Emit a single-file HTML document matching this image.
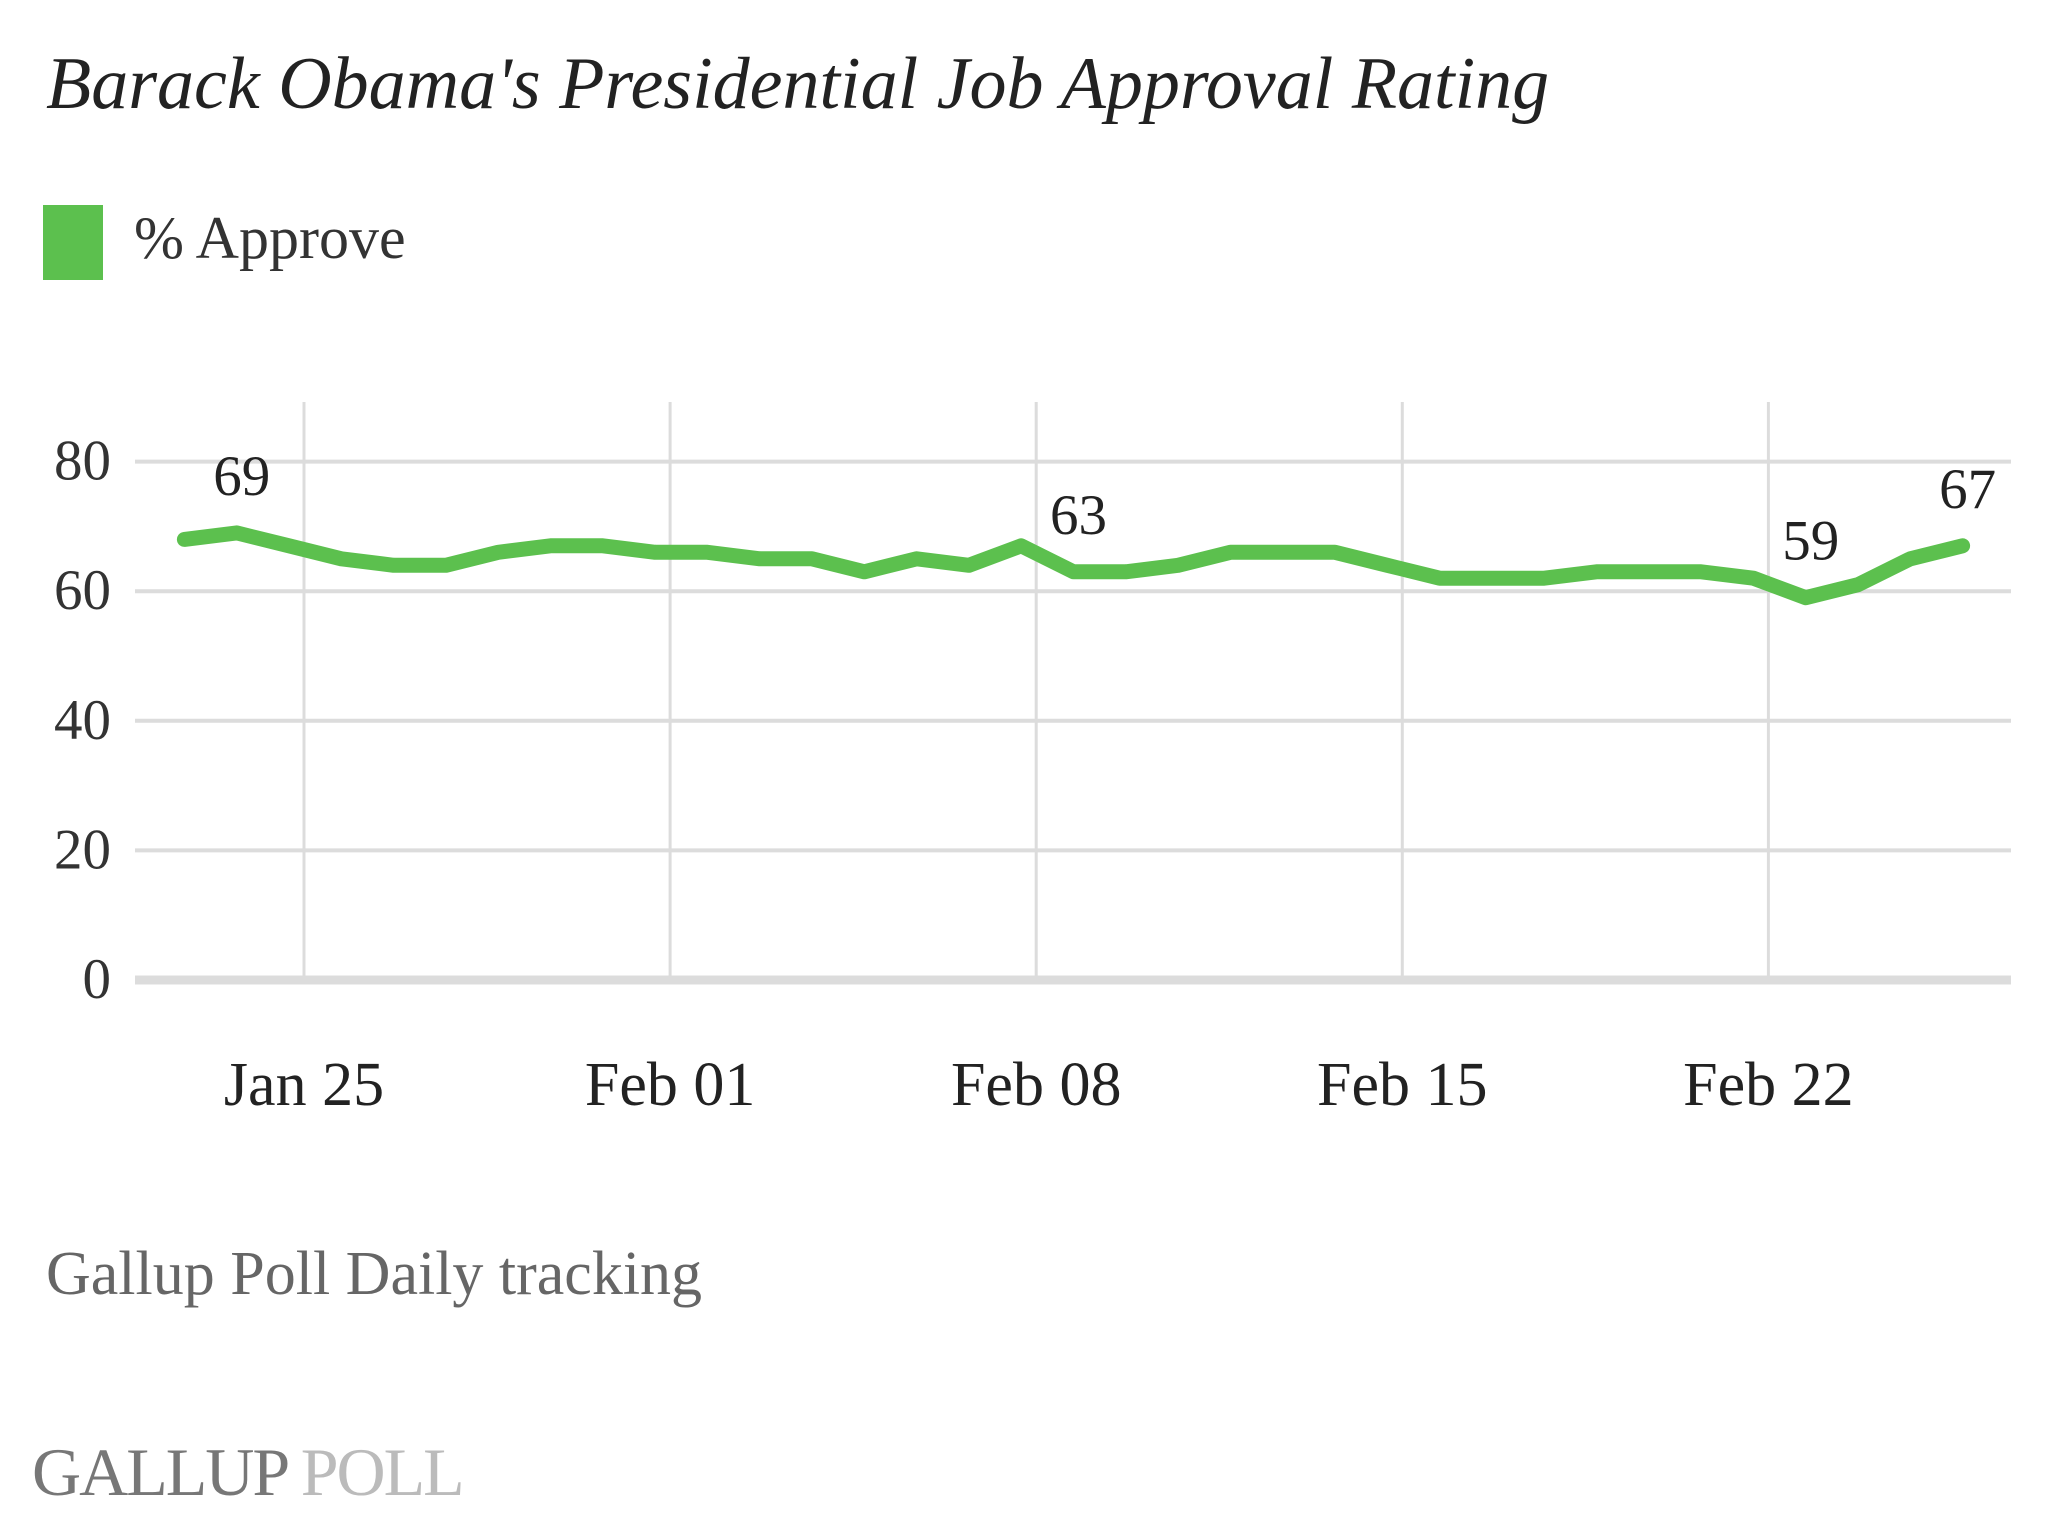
<!DOCTYPE html>
<html><head><meta charset="utf-8"><style>
html,body{margin:0;padding:0;background:#fff;}
svg{display:block;font-family:"Liberation Serif",serif;}
</style></head><body>
<svg id="chart" width="2048" height="1536" viewBox="0 0 2048 1536">
<text x="46" y="108" font-size="74" font-style="italic" fill="#222">Barack Obama's Presidential Job Approval Rating</text>
<rect x="43" y="205" width="60" height="75" fill="#5cc04e"/>
<text x="134" y="258" font-size="60" fill="#333">% Approve</text>
<g id="grid"></g>
<g id="plot"></g>
<text x="46" y="1294" font-size="62" fill="#666">Gallup Poll Daily tracking</text>
<text x="32" y="1495" font-size="68" fill="#777" letter-spacing="-2">GALLUP <tspan fill="#bbb">POLL</tspan></text>
</svg>
<script>
const dates = ["Jan 23","Jan 24","Jan 25","Jan 26","Jan 27","Jan 28","Jan 29","Jan 30","Jan 31","Feb 01","Feb 02","Feb 03","Feb 04","Feb 05","Feb 06","Feb 07","Feb 08","Feb 09","Feb 10","Feb 11","Feb 12","Feb 13","Feb 14","Feb 15","Feb 16","Feb 17","Feb 18","Feb 19","Feb 20","Feb 21","Feb 22","Feb 23","Feb 24","Feb 25","Feb 26"];
const approve = [68,69,67,65,64,64,66,67,67,66,66,65,65,63,65,64,67,63,63,64,66,66,66,64,62,62,62,63,63,63,62,59,61,65,67];
const xTickLabels = ["Jan 25","Feb 01","Feb 08","Feb 15","Feb 22"];
const yTicks = [0,20,40,60,80];
const annotated = ["Jan 24","Feb 09","Feb 23","Feb 26"];

const NS="http://www.w3.org/2000/svg";
const x0=304, dayW=52.3, yBase=980, unit=6.48, lineShift=-15;
function x(d){ return x0 + (dates.indexOf(d)-2)*dayW; }
function y(v){ return yBase - v*unit; }
function mk(tag, attrs, parent){ const e=document.createElementNS(NS,tag); for(const k in attrs) e.setAttribute(k,attrs[k]); parent.appendChild(e); return e; }
const grid=document.getElementById('grid'), plot=document.getElementById('plot');

yTicks.forEach(t=>{
  const l=mk('line',{x1:135,x2:2011,y1:y(t),y2:y(t),stroke:'#dcdcdc','stroke-width':t===0?9:4},grid);
  
  
  const tx=mk('text',{x:111,y:y(t)+18,'font-size':57,'text-anchor':'end',fill:'#333'},grid);
  tx.textContent=t;
  
  
});
xTickLabels.forEach(d=>{
  const l=mk('line',{x1:x(d),x2:x(d),y1:402,y2:978,stroke:'#dcdcdc','stroke-width':3},grid);
  
  
  const tx=mk('text',{x:x(d),y:1105,'font-size':62,'text-anchor':'middle',fill:'#222'},grid);
  tx.textContent=d;
  
  
});
const pts=dates.map((d,i)=>(x(d)+lineShift).toFixed(1)+','+y(approve[i]).toFixed(1)).join(' ');
const line=mk('polyline',{points:pts,fill:'none',stroke:'#5cc04e','stroke-width':15,'stroke-linejoin':'round','stroke-linecap':'round'},plot);


annotated.forEach(d=>{
  const v=approve[dates.indexOf(d)];
  const tx=mk('text',{x:x(d)+lineShift+5,y:y(v)-38,'font-size':57,'text-anchor':'middle',fill:'#222'},plot);
  tx.textContent=v;
  
  
});
</script>
</body></html>
